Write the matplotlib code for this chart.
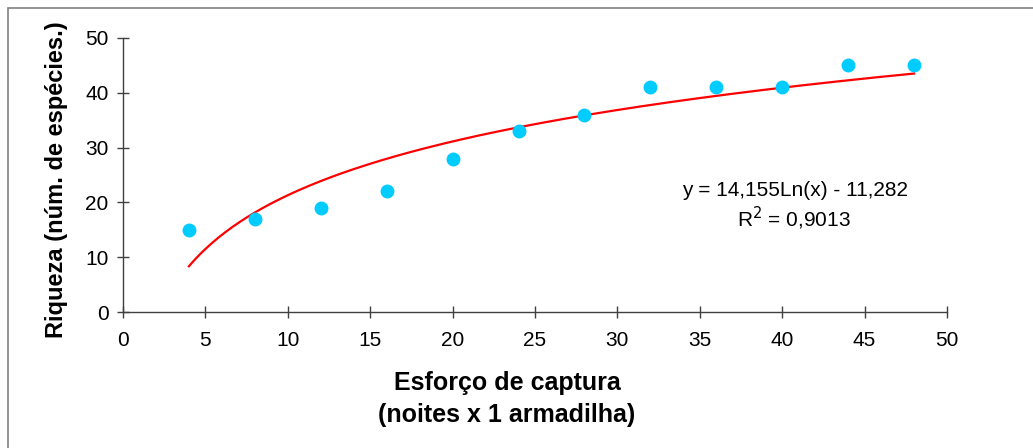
import numpy as np
import matplotlib
matplotlib.use('Agg')
import matplotlib.pyplot as plt
from matplotlib.patches import Rectangle

# capture effort (nights x 1 trap) and species richness
esforco = [4, 8, 12, 16, 20, 24, 28, 32, 36, 40, 44, 48]
riqueza = [15, 17, 19, 22, 28, 33, 36, 41, 41, 41, 45, 45]

# log trendline coefficients shown on the chart
coef_a = 14.155
coef_b = -11.282
r2 = 0.9013

plt.rcParams['font.family'] = ['Liberation Sans', 'DejaVu Sans']

fig = plt.figure(figsize=(10.33, 4.48), dpi=100)
fig.patches.append(Rectangle((8/1033, -0.1), 1.2, 1 - 8/448 + 0.1,
                             transform=fig.transFigure, fill=False,
                             edgecolor='#808080', linewidth=1.2))

ax = fig.add_axes([123/1033, 1 - 312/448, (947-123)/1033, (312-38)/448])

xt = np.linspace(min(esforco), max(esforco), 200)
ax.plot(xt, coef_a*np.log(xt) + coef_b, color='#ff0000', linewidth=1.6, zorder=2)
ax.plot(esforco, riqueza, 'o', color='#00ccff', markersize=10, markeredgewidth=0, zorder=3)

ax.set_xlim(0, 50)
ax.set_ylim(0, 50)
ax.set_xticks(range(0, 51, 5))
ax.set_yticks(range(0, 51, 10))
ax.tick_params(direction='inout', length=9, width=1, color='#404040', labelsize=15)
ax.tick_params(axis='x', pad=9)
ax.tick_params(axis='y', pad=6)
for s in ['top', 'right']:
    ax.spines[s].set_visible(False)
for s in ['left', 'bottom']:
    ax.spines[s].set_color('#404040')
    ax.spines[s].set_linewidth(1)

ax.text(795/1033, 1 - 190/448, 'y = 14,155Ln(x) - 11,282', transform=fig.transFigure,
        ha='center', va='center', fontsize=15)
ax.text(794/1033, 1 - 218/448, 'R$^2$ = 0,9013', transform=fig.transFigure,
        ha='center', va='center', fontsize=15)

fig.text(507/1033, 1 - 383/448, 'Esforço de captura', ha='center', va='center',
         fontsize=18, fontweight='bold')
fig.text(507/1033, 1 - 415/448, '(noites x 1 armadilha)', ha='center', va='center',
         fontsize=18, fontweight='bold')
fig.text(57/1033, 1 - 180/448, 'Riqueza (núm. de espécies.)', ha='center', va='center',
         rotation=90, fontsize=17, fontweight='bold')

fig.savefig('out.png', dpi=100)
